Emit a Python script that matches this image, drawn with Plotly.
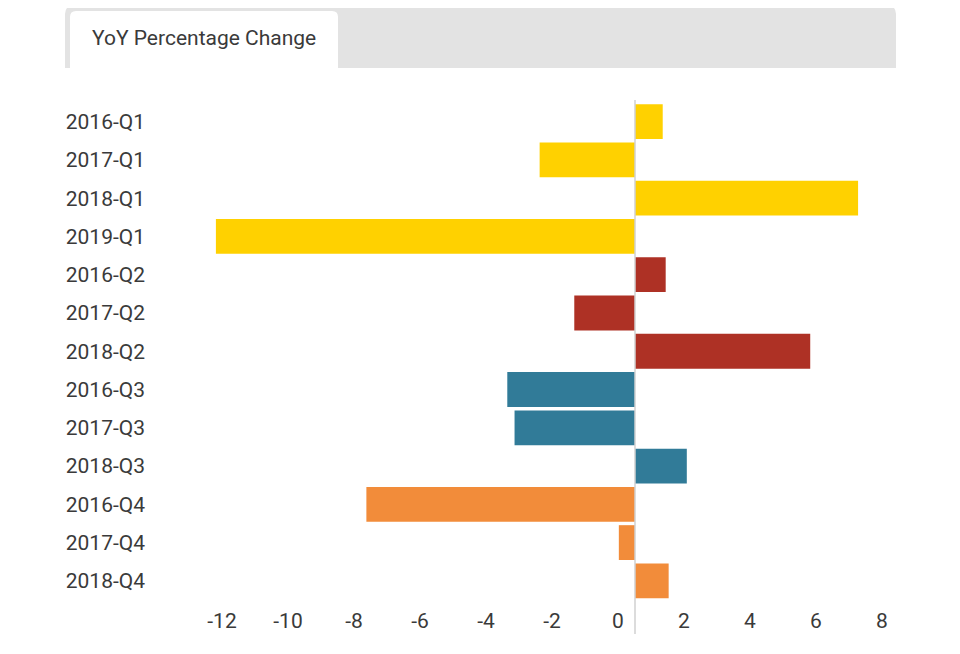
import plotly.graph_objects as go

# YoY percentage change per quarter, top to bottom as shown
categories = ["2016-Q1", "2017-Q1", "2018-Q1", "2019-Q1",
              "2016-Q2", "2017-Q2", "2018-Q2",
              "2016-Q3", "2017-Q3", "2018-Q3",
              "2016-Q4", "2017-Q4", "2018-Q4"]
values = [0.84, -2.89, 6.76, -12.7,
          0.93, -1.84, 5.31,
          -3.87, -3.65, 1.57,
          -8.14, -0.49, 1.02]
quarter_colors = {"Q1": "#FFD100", "Q2": "#AE3125", "Q3": "#317B98", "Q4": "#F28C3A"}
tick_vals = [-12, -10, -8, -6, -4, -2, 0, 2, 4, 6, 8]

W, H = 960, 654
OFF = 8  # page body margin shifts the plot by 8px
bar_colors = [quarter_colors[c.split("-")[1]] for c in categories]

fig = go.Figure()
fig.add_trace(go.Bar(
    x=values, y=categories, orientation="h",
    marker=dict(color=bar_colors, line=dict(width=0)),
    hoverinfo="x+y",
))

def px_x(v):
    return (v - OFF) / W

def px_y(v):
    return 1 - (v - OFF) / H

def rounded_top(x0, x1, y0, y1, r):
    return "M %f,%f L %f,%f Q %f,%f %f,%f L %f,%f Q %f,%f %f,%f L %f,%f Z" % (
        px_x(x0), px_y(y1), px_x(x0), px_y(y0 + r), px_x(x0), px_y(y0), px_x(x0 + r), px_y(y0),
        px_x(x1 - r), px_y(y0), px_x(x1), px_y(y0), px_x(x1), px_y(y0 + r), px_x(x1), px_y(y1))

shapes = [
    # grey header strip
    dict(type="path", xref="paper", yref="paper", layer="below",
         path=rounded_top(65, 896, 6, 68, 8), fillcolor="#E3E3E3", line=dict(width=0)),
    # white active tab
    dict(type="path", xref="paper", yref="paper", layer="below",
         path=rounded_top(70, 338, 11, 68, 6), fillcolor="white", line=dict(width=0)),
    # zero line
    dict(type="line", xref="x", yref="paper", x0=0, x1=0,
         y0=px_y(634), y1=px_y(100), line=dict(color="#D0D0D0", width=1.5)),
]

fig.update_layout(
    width=W, height=H,
    margin=dict(l=0, r=0, t=0, b=0),
    paper_bgcolor="white", plot_bgcolor="white",
    font=dict(family="Roboto", size=21, color="#3a3a3a"),
    bargap=0.09,
    showlegend=False,
    shapes=shapes,
    annotations=[dict(text="YoY Percentage Change", xref="paper", yref="paper",
                      x=px_x(204), y=px_y(38), xanchor="center", yanchor="middle",
                      showarrow=False, font=dict(family="Roboto", size=21, color="#3a3a3a"))],
    xaxis=dict(
        domain=[px_x(206), px_x(899)],
        range=[-13, 8],
        tickvals=tick_vals,
        ticktext=[str(v) for v in tick_vals],
        showgrid=False, zeroline=False, showline=False, ticks="",
        ticklabelshift=-17, ticklabelstandoff=6,
        tickfont=dict(size=21, color="#3a3a3a"),
    ),
    yaxis=dict(
        domain=[px_y(600), px_y(102.5)],
        categoryorder="array", categoryarray=categories,
        autorange="reversed",
        showgrid=False, zeroline=False, showline=False, ticks="",
        ticklabelstandoff=60,
        tickfont=dict(size=21, color="#3a3a3a"),
    ),
)

fig.write_html("out.html")
